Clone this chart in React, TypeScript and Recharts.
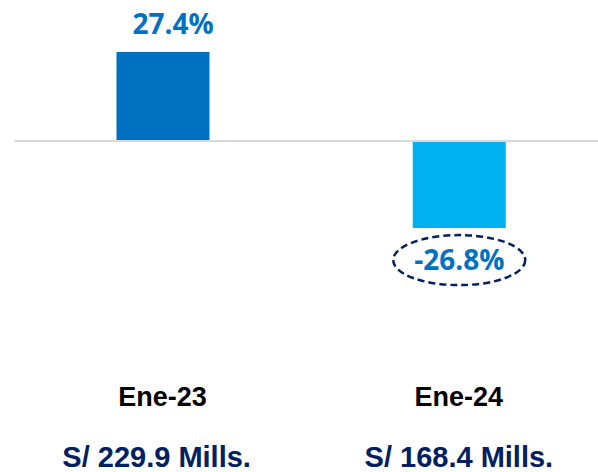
import { Bar, BarChart, Cell, LabelList, ReferenceLine, XAxis, YAxis } from "recharts";

const categories = ["Ene-23", "Ene-24"];
const variation = [27.4, -26.8];
const amounts = ["S/ 229.9 Mills.", "S/ 168.4 Mills."];
const barColors = ["#0070C0", "#00B0F0"];

const data = categories.map((month, i) => ({
  month,
  variation: variation[i],
  amount: amounts[i],
}));

const NAVY = "#002060";
const BLUE = "#0070C0";
const PCT_FONT = "'Open Sans', 'Noto Sans', sans-serif";
const ARIAL = "'Liberation Sans', Arial, sans-serif";

function MonthTick(props: any) {
  const { x, y, payload, index } = props;
  // the first amount sits a little left of its bar in the original slide
  const shift = index === 0 ? -6 : 0;
  return (
    <g>
      <text x={x} y={y + 135} textAnchor="middle" fill="#000000" fontFamily={ARIAL} fontWeight={700} fontSize={27}>
        {payload.value}
      </text>
      <text x={x + shift} y={y + 196} textAnchor="middle" fill={NAVY} fontFamily={ARIAL} fontWeight={700} fontSize={29}>
        {amounts[index]}
      </text>
    </g>
  );
}

function PctLabel(props: any) {
  const { x, y, width, height, value } = props;
  const top = Math.min(y, y + height);
  const bottom = Math.max(y, y + height);
  const cx = x + width / 2;
  const text = `${Number(value).toFixed(1)}%`;

  if (value >= 0) {
    return (
      <text x={cx + 10} y={top - 18} textAnchor="middle" fill={BLUE} fontFamily={PCT_FONT} fontWeight={700} fontSize={28}>
        {text}
      </text>
    );
  }

  return (
    <g>
      <ellipse cx={cx} cy={bottom + 32} rx={66} ry={25} fill="none" stroke={NAVY} strokeWidth={2.5} strokeDasharray="7 4" />
      <text x={cx} y={bottom + 42} textAnchor="middle" fill={BLUE} fontFamily={PCT_FONT} fontWeight={700} fontSize={28}>
        {text}
      </text>
    </g>
  );
}

export default function App() {
  return (
    <div style={{ position: "absolute", left: 0, top: 0, width: 598, height: 472, overflow: "hidden", background: "#ffffff" }}>
      <BarChart width={607} height={472} data={data} margin={{ top: 11, right: 0, bottom: 11, left: 14.5 }} barSize={93}>
        <XAxis
          dataKey="month"
          axisLine={false}
          tickLine={false}
          tickSize={0}
          tickMargin={0}
          height={190}
          interval={0}
          tick={<MonthTick />}
        />
        <YAxis hide domain={[-40, 40]} />
        <ReferenceLine y={0} stroke="#d9d9d9" strokeWidth={2} />
        <Bar dataKey="variation" isAnimationActive={false}>
          {data.map((row, i) => (
            <Cell key={row.month} fill={barColors[i]} />
          ))}
          <LabelList dataKey="variation" content={<PctLabel />} />
        </Bar>
      </BarChart>
    </div>
  );
}
